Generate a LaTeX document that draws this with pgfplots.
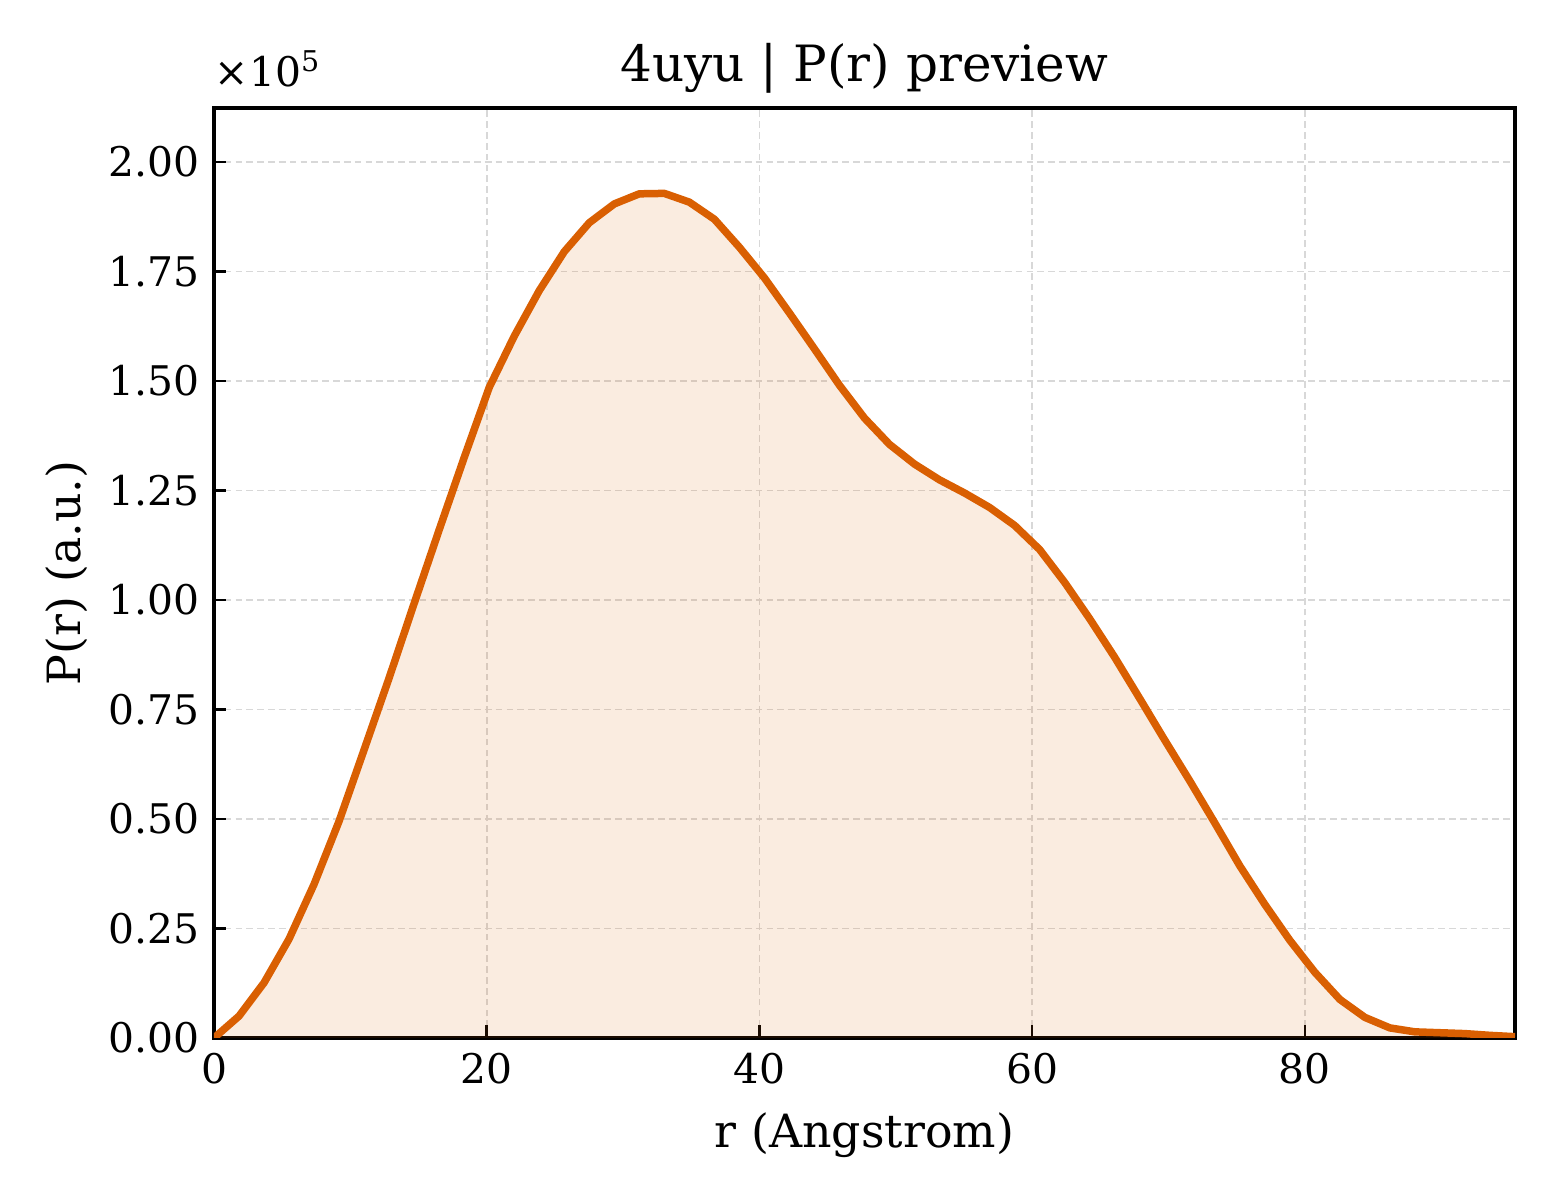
\documentclass[border=0pt]{standalone}
\usepackage{pgfplots}
\pgfplotsset{compat=1.18}
\usepackage{fontspec}
\setmainfont{DejaVu Serif}
\definecolor{lineor}{HTML}{D95F02}
\definecolor{gridg}{HTML}{D8D8D8}
\begin{document}
\begin{tikzpicture}
\useasboundingbox (-51.36pt,-38.88pt) rectangle (323.04pt,249.12pt);
\begin{axis}[
  at={(0,0)}, anchor=south west,
  scale only axis, width=312.24pt, height=223.2pt,
  xmin=0, xmax=95.42, ymin=0, ymax=2.123,
  xtick={0,20,40,60,80},
  ytick={0,0.25,0.5,0.75,1,1.25,1.5,1.75,2},
  yticklabel style={/pgf/number format/.cd, fixed, fixed zerofill, precision=2},
  /pgf/number format/assume math mode=true,
  tick align=inside, major tick length=3pt,
  xtick pos=bottom, ytick pos=left,
  tick style={black, line width=0.6pt},
  ticklabel style={font=\fontsize{9.8}{12}\selectfont},
  axis line style={line width=0.9pt},
  grid=major,
  major grid style={gridg, dash pattern=on 1.6pt off 1pt, line width=0.4pt},
  title={4uyu | P(r) preview},
  title style={font=\fontsize{12}{14}\selectfont, yshift=-6pt},
  xlabel={r (Angstrom)},
  ylabel={P(r) (a.u.)},
  label style={font=\fontsize{11}{13}\selectfont},
  xlabel style={yshift=0pt},
  ylabel style={yshift=-2pt},
  clip=true,
]
\addplot[draw=none, fill=lineor, fill opacity=0.12] coordinates {
(0,0) (1.835,0.050) (3.67,0.126) (5.505,0.226) (7.34,0.351) (9.175,0.495)
(11.01,0.658) (12.845,0.822) (14.68,0.992) (16.515,1.160) (18.35,1.325)
(20.185,1.485) (22.02,1.602) (23.855,1.706) (25.69,1.795) (27.525,1.861)
(29.36,1.904) (31.195,1.927) (33.03,1.928) (34.865,1.908) (36.7,1.869)
(38.535,1.805) (40.37,1.735) (42.205,1.655) (44.04,1.573) (45.875,1.490)
(47.71,1.415) (49.545,1.355) (51.38,1.310) (53.215,1.274) (55.05,1.244)
(56.885,1.211) (58.72,1.170) (60.555,1.115) (62.39,1.040) (64.225,0.957)
(66.06,0.869) (67.895,0.775) (69.73,0.680) (71.565,0.587) (73.4,0.491)
(75.235,0.393) (77.07,0.305) (78.905,0.223) (80.74,0.150) (82.575,0.088)
(84.41,0.047) (86.245,0.023) (88.08,0.014) (89.915,0.012) (91.75,0.010)
(93.585,0.006) (95.42,0.003) (95.42,0)
} \closedcycle;
\addplot[lineor, line width=1.8pt, line join=round] coordinates {
(0,0) (1.835,0.050) (3.67,0.126) (5.505,0.226) (7.34,0.351) (9.175,0.495)
(11.01,0.658) (12.845,0.822) (14.68,0.992) (16.515,1.160) (18.35,1.325)
(20.185,1.485) (22.02,1.602) (23.855,1.706) (25.69,1.795) (27.525,1.861)
(29.36,1.904) (31.195,1.927) (33.03,1.928) (34.865,1.908) (36.7,1.869)
(38.535,1.805) (40.37,1.735) (42.205,1.655) (44.04,1.573) (45.875,1.490)
(47.71,1.415) (49.545,1.355) (51.38,1.310) (53.215,1.274) (55.05,1.244)
(56.885,1.211) (58.72,1.170) (60.555,1.115) (62.39,1.040) (64.225,0.957)
(66.06,0.869) (67.895,0.775) (69.73,0.680) (71.565,0.587) (73.4,0.491)
(75.235,0.393) (77.07,0.305) (78.905,0.223) (80.74,0.150) (82.575,0.088)
(84.41,0.047) (86.245,0.023) (88.08,0.014) (89.915,0.012) (91.75,0.010)
(93.585,0.006) (95.42,0.003)
};
\end{axis}
\node[anchor=south west, inner sep=0pt, font=\fontsize{9.8}{12}\selectfont] at (0pt,228pt) {×10\textsuperscript{5}};
\end{tikzpicture}
\end{document}
